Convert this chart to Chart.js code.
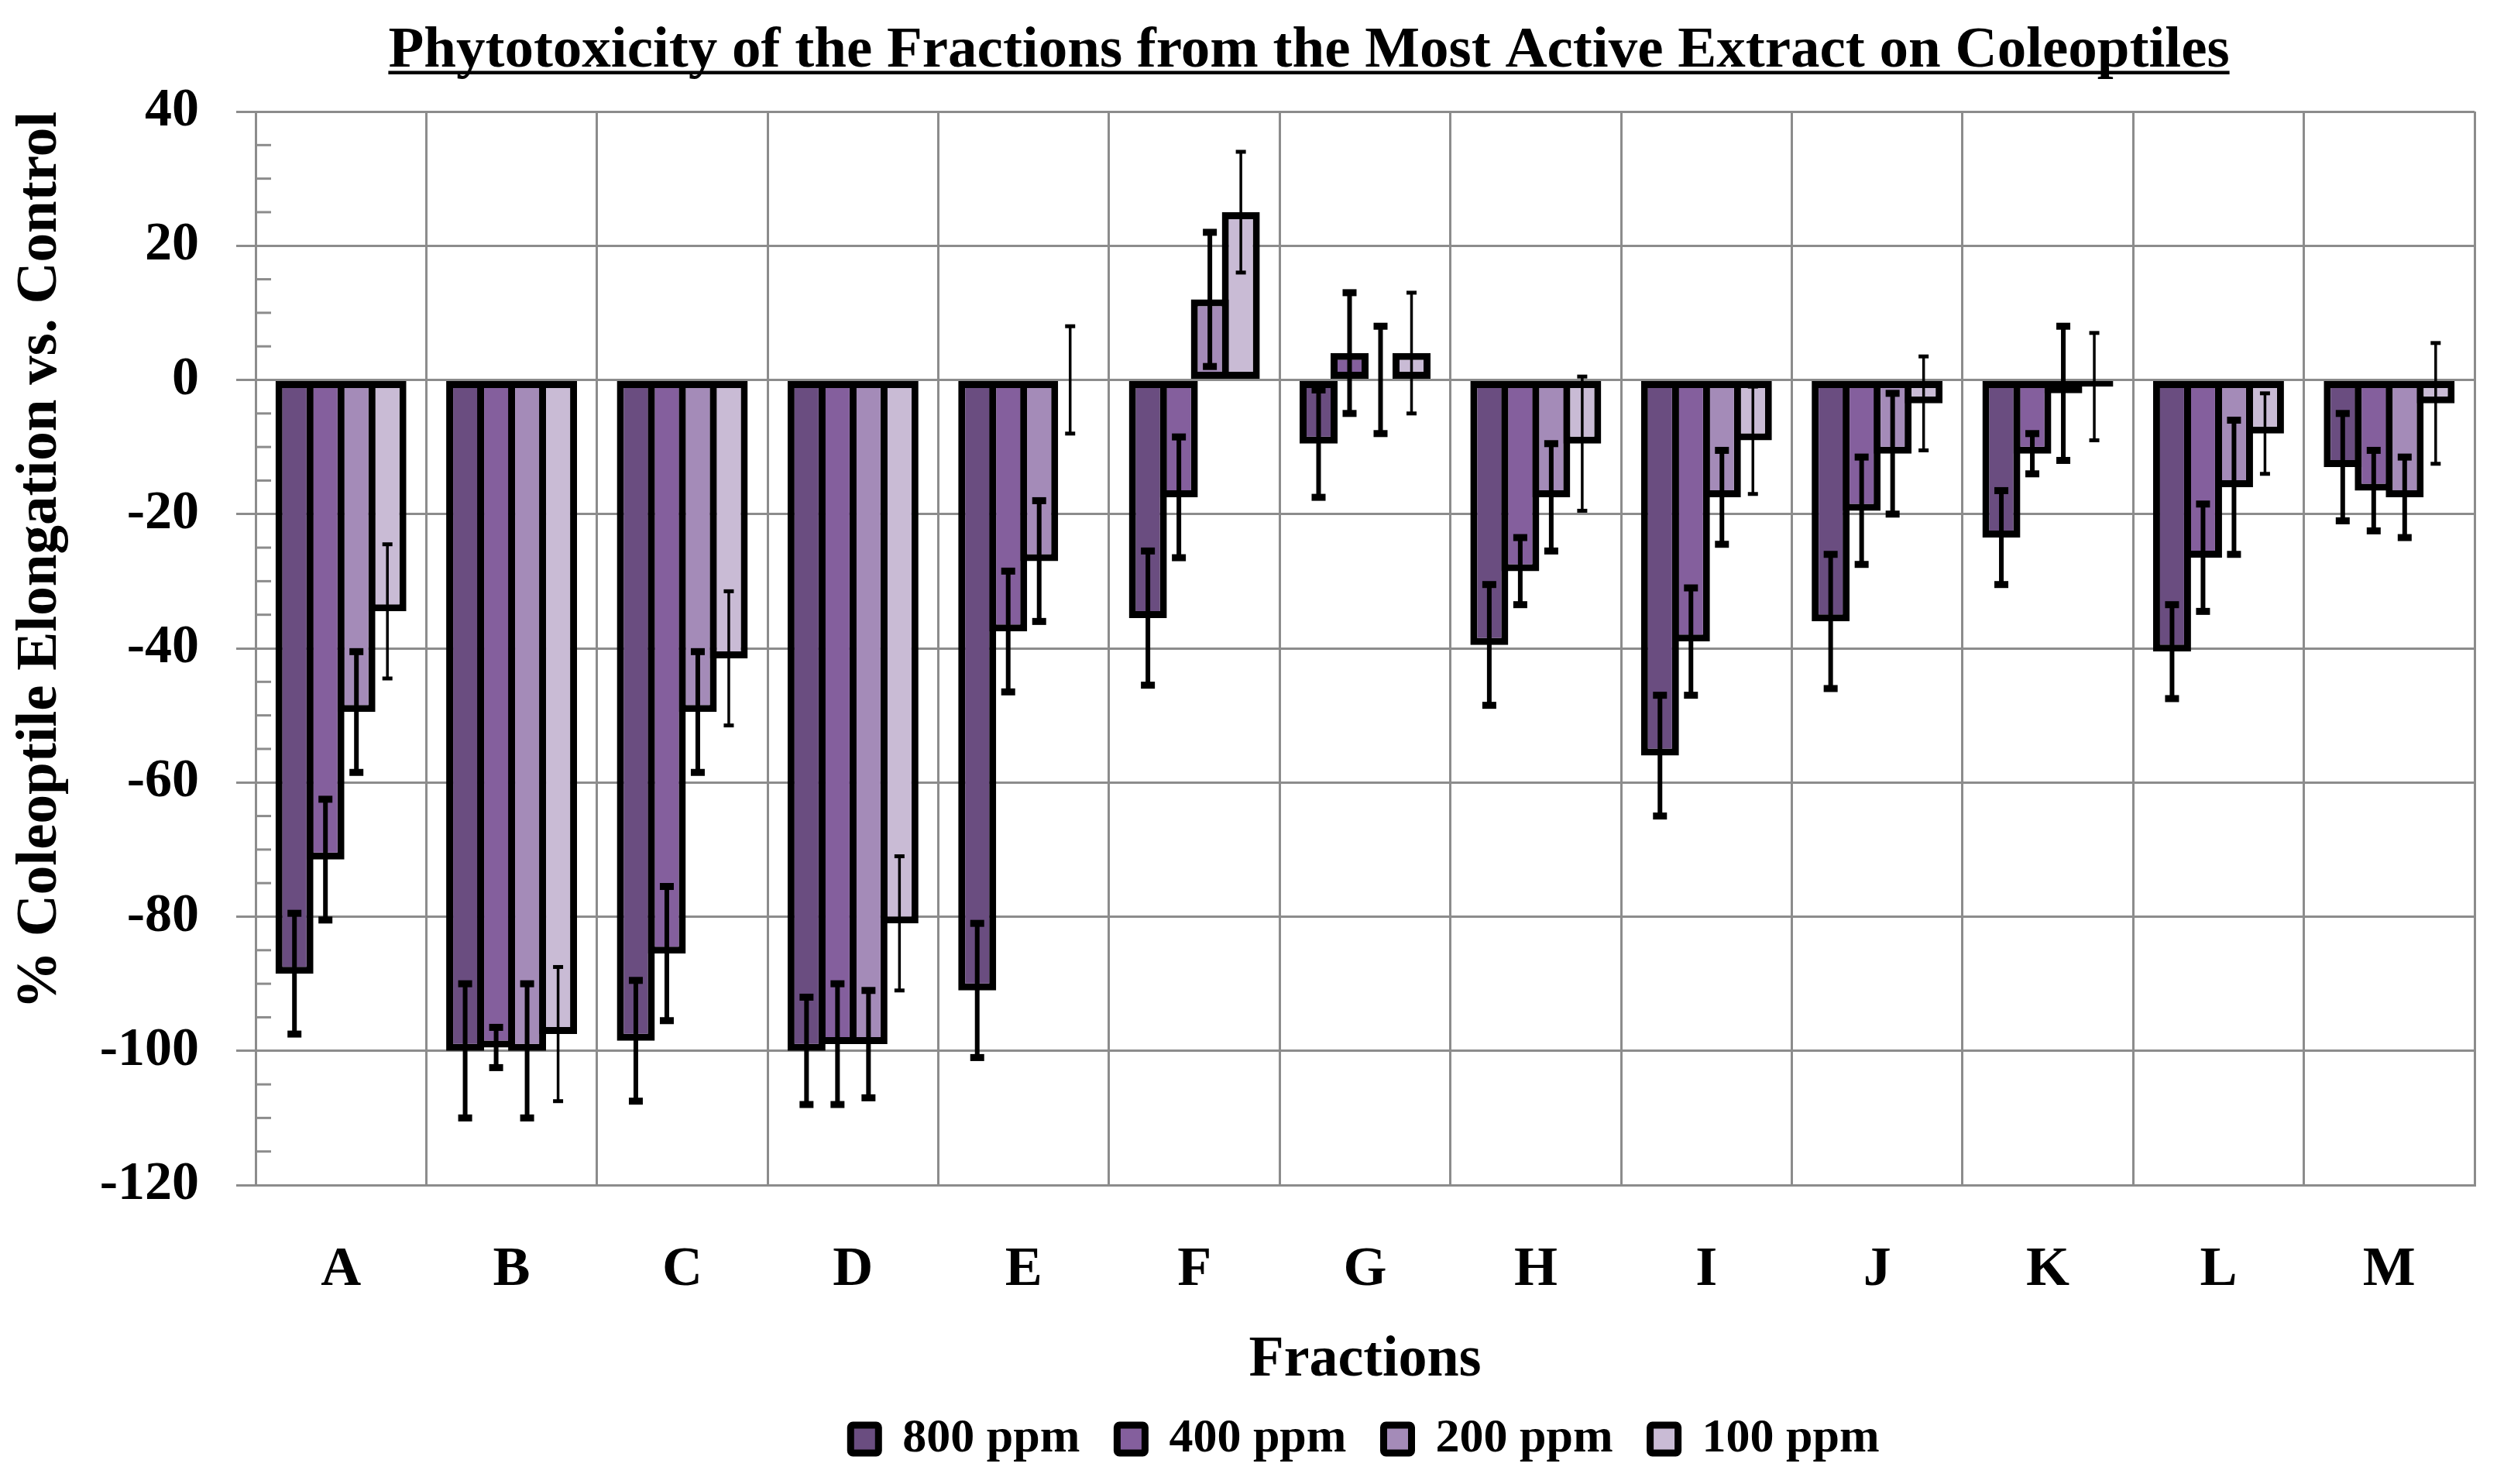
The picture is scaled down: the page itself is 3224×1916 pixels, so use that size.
<!DOCTYPE html>
<html>
<head>
<meta charset="utf-8">
<script src="https://cdn.jsdelivr.net/npm/chart.js@4.4.1/dist/chart.umd.min.js"></script>
<style>
    html, body { margin: 0; padding: 0; background: #fff; }
    canvas { display: block; }
</style>
</head>
<body>
<canvas id="phytoChart" width="3224" height="1916"></canvas>
<script>
// values (% elongation vs. control) and their error bars
const fractions = ['A', 'B', 'C', 'D', 'E', 'F', 'G', 'H', 'I', 'J', 'K', 'L', 'M'];
const seriesNames = ['800 ppm', '400 ppm', '200 ppm', '100 ppm'];

const values800 = [-88.5, -100, -98.5, -100, -91, -35.5, -9.5, -39.5, -56, -36, -23.5, -40.5, -13];
const errors800 = [9, 10, 9, 8, 10, 10, 8, 9, 9, 10, 7, 7, 8];
const values400 = [-71.5, -99.5, -85.5, -99, -37.5, -17.5, 4, -28.5, -39, -19.5, -11, -26.5, -16.5];
const errors400 = [9, 3, 10, 9, 9, 9, 9, 5, 8, 8, 3, 8, 6];
const values200 = [-49.5, -100, -49.5, -99, -27, 12, 0, -17.5, -17.5, -11, -2, -16, -17.5];
const errors200 = [9, 10, 9, 8, 9, 10, 8, 8, 7, 9, 10, 10, 6];
const values100 = [-34.5, -97.5, -41.5, -81, 0, 25, 4, -9.5, -9, -3.5, -1, -8, -3.5];
const errors100 = [10, 10, 10, 10, 8, 9, 9, 10, 8, 7, 8, 6, 9];

const yTicks = [40, 20, 0, -20, -40, -60, -80, -100, -120];
const minorStep = 5;

const chartTitle = 'Phytotoxicity of the Fractions from the Most Active Extract on Coleoptiles';
const yTitle = '% Coleoptile Elongation vs. Control';
const xTitle = 'Fractions';

const FONT = '"Liberation Serif", "Times New Roman", serif';
const GRID = '#8c8c8c';
const BAR_BORDER = 9;

// whiskers drawn on top of the bars
const errorBarPlugin = {
    id: 'errorBars',
    afterDatasetsDraw(chart) {
        const { ctx } = chart;
        const yScale = chart.scales.y;
        chart.data.datasets.forEach((ds, i) => {
            const meta = chart.getDatasetMeta(i);
            if (meta.hidden) return;
            const st = ds.errorStyle;
            ctx.save();
            ctx.fillStyle = '#000';
            ctx.strokeStyle = '#000';
            ctx.lineWidth = st.line;
            meta.data.forEach((bar, j) => {
                const v = ds.data[j];
                const e = ds.errors[j];
                const yTop = yScale.getPixelForValue(v + e);
                const yBot = yScale.getPixelForValue(v - e);
                ctx.beginPath();
                ctx.moveTo(bar.x, yTop);
                ctx.lineTo(bar.x, yBot);
                ctx.stroke();
                ctx.fillRect(bar.x - st.cap / 2, yTop - st.capH / 2, st.cap, st.capH);
                ctx.fillRect(bar.x - st.cap / 2, yBot - st.capH / 2, st.cap, st.capH);
            });
            ctx.restore();
        });
    },
};

// small inside ticks every 5 units on the value axis
const minorTickPlugin = {
    id: 'minorTicks',
    beforeDatasetsDraw(chart) {
        const { ctx } = chart;
        const y = chart.scales.y;
        const x0 = chart.chartArea.left;
        ctx.save();
        ctx.strokeStyle = GRID;
        ctx.lineWidth = 3;
        for (let v = y.min; v <= y.max; v += minorStep) {
            if (yTicks.includes(v)) continue;
            const py = y.getPixelForValue(v);
            ctx.beginPath();
            ctx.moveTo(x0, py);
            ctx.lineTo(x0 + 20, py);
            ctx.stroke();
        }
        ctx.restore();
    },
};

// underlined title
const titlePlugin = {
    id: 'underlinedTitle',
    afterDraw(chart) {
        const { ctx } = chart;
        ctx.save();
        ctx.font = `bold 75px ${FONT}`;
        ctx.fillStyle = '#000';
        ctx.textAlign = 'center';
        ctx.textBaseline = 'alphabetic';
        const cx = 1690;
        ctx.fillText(chartTitle, cx, 86);
        const w = ctx.measureText(chartTitle).width;
        ctx.fillRect(cx - w / 2, 91.5, w, 4.5);
        ctx.restore();
    },
};

// bars are widened by one border width so neighbouring outlines overlap (Excel look)
function makeSet(label, data, errors, color, thin) {
    return {
        label,
        data,
        errors,
        backgroundColor: color,
        borderColor: '#000',
        borderWidth: BAR_BORDER,
        borderSkipped: false,
        categoryPercentage: 0.726,
        barPercentage: 1.225,
        errorStyle: thin ? { line: 3.5, cap: 13, capH: 5 } : { line: 6, cap: 18, capH: 9 },
    };
}

const ctx = document.getElementById('phytoChart').getContext('2d');
new Chart(ctx, {
    type: 'bar',
    data: {
        labels: fractions,
        datasets: [
            makeSet(seriesNames[0], values800, errors800, '#6a4d80', false),
            makeSet(seriesNames[1], values400, errors400, '#845f9d', false),
            makeSet(seriesNames[2], values200, errors200, '#a48bb8', false),
            makeSet(seriesNames[3], values100, errors100, '#c9bbd5', true),
        ],
    },
    plugins: [minorTickPlugin, errorBarPlugin, titlePlugin],
    options: {
        responsive: false,
        animation: false,
        devicePixelRatio: 1,
        layout: { padding: { top: 144, right: 29, bottom: 17, left: 0 } },
        plugins: {
            title: { display: false },
            tooltip: { enabled: false },
            legend: {
                position: 'bottom',
                fullSize: false,
                labels: {
                    color: '#000',
                    font: { family: FONT, size: 62, weight: 'bold' },
                    boxWidth: 36,
                    boxHeight: 36,
                    padding: 48,
                    useBorderRadius: true,
                    borderRadius: 3,
                    generateLabels(chart) {
                        return Chart.defaults.plugins.legend.labels.generateLabels(chart).map((item) => ({
                            ...item,
                            lineWidth: 9,
                            strokeStyle: '#000',
                        }));
                    },
                },
            },
        },
        scales: {
            x: {
                grid: { offset: true, color: GRID, lineWidth: 3, drawTicks: false },
                border: { color: GRID, width: 3 },
                ticks: { color: '#000', font: { family: FONT, size: 72, weight: 'bold' }, padding: 67 },
                title: {
                    display: true,
                    text: xTitle,
                    color: '#000',
                    font: { family: FONT, size: 74, weight: 'bold' },
                    padding: { top: 0, bottom: -22 },
                },
                afterFit(scale) { scale.height = 249; },
            },
            y: {
                min: -120,
                max: 40,
                afterBuildTicks(scale) {
                    scale.ticks = [...yTicks].sort((a, b) => a - b).map((value) => ({ value }));
                },
                grid: { color: GRID, lineWidth: 3, tickLength: 25, tickColor: GRID, tickWidth: 3 },
                border: { color: GRID, width: 3 },
                ticks: { color: '#000', font: { family: FONT, size: 70, weight: 'bold' }, padding: 48 },
                title: {
                    display: true,
                    text: yTitle,
                    align: 'end',
                    color: '#000',
                    font: { family: FONT, size: 75, weight: 'bold' },
                    padding: { top: 8, bottom: 0 },
                },
                afterFit(scale) { scale.width = 330; },
            },
        },
    },
});
</script>
</body>
</html>
